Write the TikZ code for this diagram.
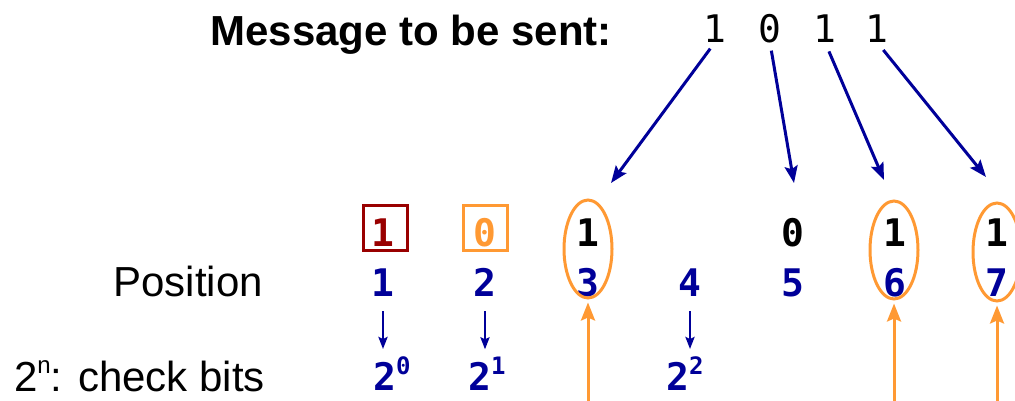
\documentclass[tikz,border=0pt]{standalone}
\usepackage{fontspec}
\setmainfont{Liberation Sans}
\newfontfamily\monofont{DejaVu Sans Mono}
\usetikzlibrary{arrows.meta,positioning,shapes.geometric}
\definecolor{navy}{RGB}{0,0,153}
\definecolor{darkred}{RGB}{153,0,0}
\definecolor{orng}{RGB}{255,153,51}
\newcommand{\expo}[1]{\raisebox{0.42em}{\fontsize{24}{24}\selectfont #1}}

\begin{document}
\begin{tikzpicture}[x=1pt,y=-1pt,
  bit/.style={font=\monofont\bfseries\fontsize{38}{38}\selectfont,anchor=base,inner sep=0pt},
  msg/.style={font=\monofont\fontsize{38}{38}\selectfont,anchor=base,inner sep=0pt},
  lbl/.style={font=\fontsize{42}{42}\selectfont,anchor=base east,inner sep=0pt},
  frame/.style={draw=#1,line width=3pt,minimum width=44pt,minimum height=45pt,inner sep=0pt},
  ring/.style={ellipse,draw=orng,line width=3pt,minimum width=48pt,minimum height=98pt,inner sep=0pt},
  feed/.style={navy,line width=3pt,-{Stealth[length=17pt,width=13pt,inset=3pt]}},
  down/.style={navy,line width=2.5pt,-{Stealth[length=12pt,width=9pt,inset=2pt]}},
  check/.style={orng,line width=3pt,-{Stealth[length=18pt,width=14pt,inset=3pt]}}]
  \useasboundingbox (0,0) rectangle (1015,400);

  % message
  \node[font=\bfseries\fontsize{42}{44}\selectfont,anchor=base east,inner sep=0pt] (title) at (612,45) {Message to be sent:};
  \node[msg] (m1) at (715,42) {1};
  \node[msg] (m2) at (770,42) {0};
  \node[msg] (m3) at (825,42) {1};
  \node[msg] (m4) at (877,42) {1};

  % codeword
  \node[bit,darkred] (d1) at (383,246) {1};
  \node[bit,orng] (d2) at (485,246) {0};
  \node[bit] (d3) at (588,246) {1};
  \node[bit] (d5) at (793,246) {0};
  \node[bit] (d6) at (895,246) {1};
  \node[bit] (d7) at (997,246) {1};
  \node[frame=darkred] (k1) at (385,227.5) {};
  \node[frame=orng] (k2) at (485,227.5) {};

  % positions
  \node[lbl] (pos) at (263,296) {Position};
  \foreach \x [count=\i] in {383,485,588,690,793,895,997}
    \node[bit,navy] (p\i) at (\x,296) {\i};

  % data bits
  \node[ring] (e3) at (588,249) {};
  \node[ring] (e6) at (894,250) {};
  \node[ring] (e7) at (997,252) {};

  % powers of two
  \node[lbl] (pow) at (265,391) {2\expo{n}: check bits};
  \node[bit,navy] (c1) at (392,390) {2\expo{0}};
  \node[bit,navy] (c2) at (487,390) {2\expo{1}};
  \node[bit,navy] (c4) at (685,390) {2\expo{2}};

  \coordinate (t3) at (611,183);
  \coordinate (t5) at (794,183);
  \coordinate (t6) at (884,180);
  \coordinate (t7) at (986,177);
  \draw[feed,shorten <=8pt] (m1.south) -- (t3);
  \draw[feed,shorten <=8pt] (m2.south) -- (t5);
  \draw[feed,shorten <=10pt] (m3.south) -- (t6);
  \draw[feed,shorten <=10pt] (m4.south) -- (t7);

  \foreach \i in {1,2,4}
    \draw[down,shorten <=15pt,shorten >=7pt] (p\i.south) -- (p\i.south |- c\i.north);

  \foreach \i in {3,6,7}
    \draw[check,shorten >=3pt] (e\i.south |- 0,405) -- (e\i.south);
\end{tikzpicture}
\end{document}
